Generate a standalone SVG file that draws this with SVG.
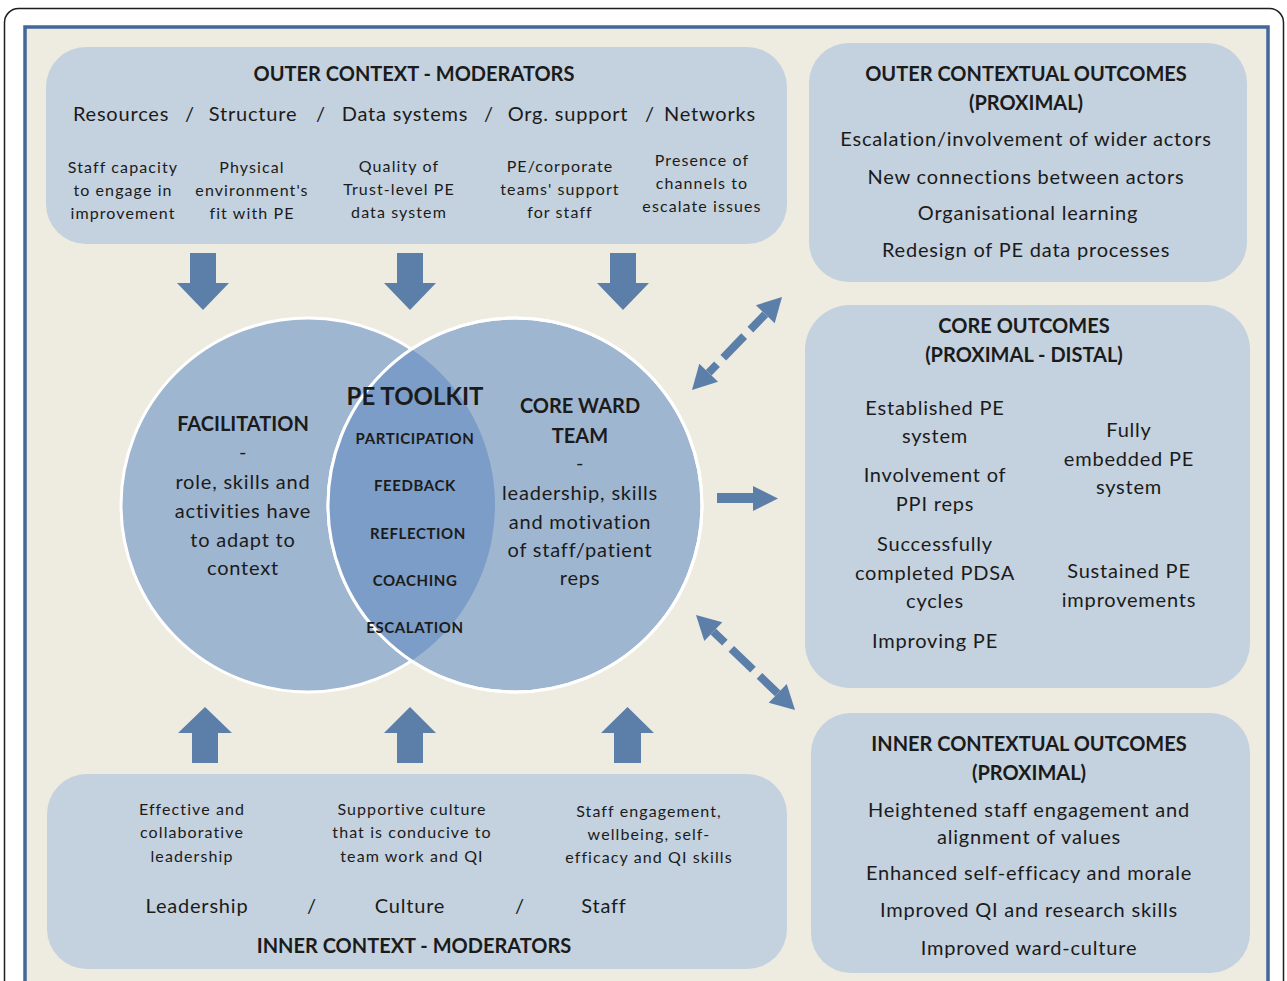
<svg xmlns="http://www.w3.org/2000/svg" width="1287" height="981" viewBox="0 0 1287 981">
<style>
  text { font-family: Lato, "Liberation Sans", sans-serif; fill: #1b1b1b; text-anchor: middle; }
  .h { font-weight: bold; font-size: 20px; }
  .m { font-size: 20px; letter-spacing: 0.8px; }
  .s { font-size: 16px; letter-spacing: 1.1px; }
  .tk { font-weight: bold; font-size: 15px; letter-spacing: 0.6px; }
  .box { fill: #c4d1de; }
  .arr { fill: #5b7fa9; }
  .dash { stroke: #5b7fa9; stroke-width: 8; fill: none; }
</style>
<defs>
  <clipPath id="leftClip"><circle cx="308" cy="505" r="187"/></clipPath>
</defs>
<rect x="0" y="0" width="1287" height="981" fill="#ffffff"/>
<rect x="4.5" y="8.5" width="1279" height="1000" rx="14" fill="#ffffff" stroke="#1e1e1e" stroke-width="1.5"/>
<rect x="25" y="27" width="1243" height="1000" fill="#eeebe1" stroke="#44679a" stroke-width="3.5"/>

<g id="outer-context">
  <rect class="box" x="46" y="47" width="741" height="197" rx="40"/>
  <text class="h" x="414" y="81">OUTER CONTEXT - MODERATORS</text>
  <text class="m" x="121" y="121">Resources</text>
  <text class="m" x="190" y="121">/</text>
  <text class="m" x="253" y="121">Structure</text>
  <text class="m" x="321" y="121">/</text>
  <text class="m" x="405" y="121">Data systems</text>
  <text class="m" x="489" y="121">/</text>
  <text class="m" x="568" y="121">Org. support</text>
  <text class="m" x="650" y="121">/</text>
  <text class="m" x="710" y="121">Networks</text>
  <text class="s" x="123" y="173">Staff capacity</text>
  <text class="s" x="123" y="196">to engage in</text>
  <text class="s" x="123" y="219">improvement</text>
  <text class="s" x="252" y="173">Physical</text>
  <text class="s" x="252" y="196">environment's</text>
  <text class="s" x="252" y="219">fit with PE</text>
  <text class="s" x="399" y="172">Quality of</text>
  <text class="s" x="399" y="195">Trust-level PE</text>
  <text class="s" x="399" y="218">data system</text>
  <text class="s" x="560" y="172">PE/corporate</text>
  <text class="s" x="560" y="195">teams' support</text>
  <text class="s" x="560" y="218">for staff</text>
  <text class="s" x="702" y="166">Presence of</text>
  <text class="s" x="702" y="189">channels to</text>
  <text class="s" x="702" y="212">escalate issues</text>
</g>

<g id="outer-contextual-outcomes">
  <rect class="box" x="809" y="43" width="438" height="239" rx="40"/>
  <text class="h" x="1026" y="81">OUTER CONTEXTUAL OUTCOMES</text>
  <text class="h" x="1026" y="110">(PROXIMAL)</text>
  <text class="m" x="1026" y="146">Escalation/involvement of wider actors</text>
  <text class="m" x="1026" y="184">New connections between actors</text>
  <text class="m" x="1028" y="220">Organisational learning</text>
  <text class="m" x="1026" y="257">Redesign of PE data processes</text>
</g>

<g id="core-outcomes">
  <rect class="box" x="805" y="305" width="445" height="383" rx="45"/>
  <text class="h" x="1024" y="333">CORE OUTCOMES</text>
  <text class="h" x="1024" y="362">(PROXIMAL - DISTAL)</text>
  <text class="m" x="935" y="415">Established PE</text>
  <text class="m" x="935" y="443">system</text>
  <text class="m" x="935" y="482">Involvement of</text>
  <text class="m" x="935" y="511">PPI reps</text>
  <text class="m" x="935" y="551">Successfully</text>
  <text class="m" x="935" y="580">completed PDSA</text>
  <text class="m" x="935" y="608">cycles</text>
  <text class="m" x="935" y="648">Improving PE</text>
  <text class="m" x="1129" y="437">Fully</text>
  <text class="m" x="1129" y="466">embedded PE</text>
  <text class="m" x="1129" y="494">system</text>
  <text class="m" x="1129" y="578">Sustained PE</text>
  <text class="m" x="1129" y="607">improvements</text>
</g>

<g id="inner-contextual-outcomes">
  <rect class="box" x="811" y="713" width="439" height="260" rx="40"/>
  <text class="h" x="1029" y="751">INNER CONTEXTUAL OUTCOMES</text>
  <text class="h" x="1029" y="780">(PROXIMAL)</text>
  <text class="m" x="1029" y="817">Heightened staff engagement and</text>
  <text class="m" x="1029" y="844">alignment of values</text>
  <text class="m" x="1029" y="880">Enhanced self-efficacy and morale</text>
  <text class="m" x="1029" y="917">Improved QI and research skills</text>
  <text class="m" x="1029" y="955">Improved ward-culture</text>
</g>

<g id="inner-context">
  <rect class="box" x="47" y="774" width="740" height="195" rx="40"/>
  <text class="s" x="192" y="815">Effective and</text>
  <text class="s" x="192" y="838">collaborative</text>
  <text class="s" x="192" y="862">leadership</text>
  <text class="s" x="412" y="815">Supportive culture</text>
  <text class="s" x="412" y="838">that is conducive to</text>
  <text class="s" x="412" y="862">team work and QI</text>
  <text class="s" x="649" y="817">Staff engagement,</text>
  <text class="s" x="649" y="840">wellbeing, self-</text>
  <text class="s" x="649" y="863">efficacy and QI skills</text>
  <text class="m" x="197" y="913">Leadership</text>
  <text class="m" x="312" y="913">/</text>
  <text class="m" x="410" y="913">Culture</text>
  <text class="m" x="520" y="913">/</text>
  <text class="m" x="604" y="913">Staff</text>
  <text class="h" x="414" y="953">INNER CONTEXT - MODERATORS</text>
</g>

<g id="venn">
  <circle cx="308" cy="505" r="187" fill="#9fb6d1" stroke="#ffffff" stroke-width="3"/>
  <circle cx="515" cy="505" r="187" fill="#9fb6d1" stroke="#ffffff" stroke-width="3"/>
  <circle cx="515" cy="505" r="187" fill="#7c9dc7" clip-path="url(#leftClip)"/>
  <circle cx="515" cy="505" r="187" fill="none" stroke="#ffffff" stroke-width="3"/>
</g>

<g id="facilitation">
  <text class="h" x="243" y="431">FACILITATION</text>
  <text class="m" x="243" y="459">-</text>
  <text class="m" x="243" y="489">role, skills and</text>
  <text class="m" x="243" y="518">activities have</text>
  <text class="m" x="243" y="547">to adapt to</text>
  <text class="m" x="243" y="575">context</text>
</g>

<g id="pe-toolkit">
  <text x="415" y="405" style="font-weight:bold;font-size:24px">PE TOOLKIT</text>
  <text class="tk" x="415" y="444">PARTICIPATION</text>
  <text class="tk" x="415" y="491">FEEDBACK</text>
  <text class="tk" x="418" y="539">REFLECTION</text>
  <text class="tk" x="415" y="586">COACHING</text>
  <text class="tk" x="415" y="633">ESCALATION</text>
</g>

<g id="core-ward-team">
  <text class="h" x="580" y="413">CORE WARD</text>
  <text class="h" x="580" y="443">TEAM</text>
  <text class="m" x="580" y="470">-</text>
  <text class="m" x="580" y="500">leadership, skills</text>
  <text class="m" x="580" y="529">and motivation</text>
  <text class="m" x="580" y="557">of staff/patient</text>
  <text class="m" x="580" y="585">reps</text>
</g>

<g id="connectors">
  <polygon class="arr" points="190,253 216,253 216,283 229,283 203,310 177,283 190,283"/>
  <polygon class="arr" points="397,253 423,253 423,283 436,283 410,310 384,283 397,283"/>
  <polygon class="arr" points="610,253 636,253 636,283 649,283 623,310 597,283 610,283"/>
  <polygon class="arr" points="192,763 218,763 218,733 232,733 205,707 178,733 192,733"/>
  <polygon class="arr" points="397,763 423,763 423,733 436,733 410,707 384,733 397,733"/>
  <polygon class="arr" points="614,763 641,763 641,733 654,733 627.5,707 601,733 614,733"/>
  <polygon class="arr" points="717,493 753,493 753,486 778,498.5 753,511 753,503 717,503"/>
  <path class="dash" d="M708.7,372.8 L765.3,314.2" stroke-dasharray="12 9 30 9 40"/>
  <polygon class="arr" points="782,297 774.7,323.3 755.9,305.2"/>
  <polygon class="arr" points="692,390 718,381.8 699.3,363.8"/>
  <path class="dash" d="M713.3,631.6 L777.7,693.4" stroke-dasharray="16 9 30 9 40"/>
  <polygon class="arr" points="795,710 768.7,702.8 786.7,684"/>
  <polygon class="arr" points="696,615 704.3,641 722.3,622.2"/>
</g>
</svg>
